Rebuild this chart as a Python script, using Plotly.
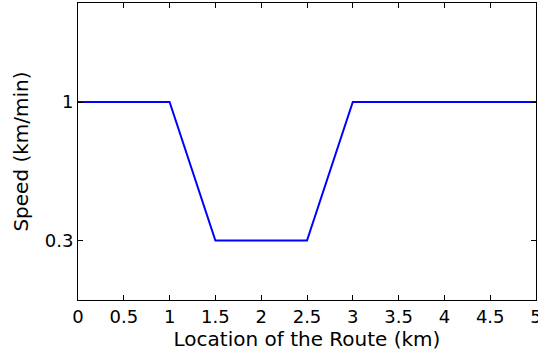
import plotly.graph_objects as go

location_km = [0, 1, 1.5, 2.5, 3, 5]
speed_km_min = [1, 1, 0.3, 0.3, 1, 1]
x_ticks = [0, 0.5, 1, 1.5, 2, 2.5, 3, 3.5, 4, 4.5, 5]
x_tick_labels = ["0", "0.5", "1", "1.5", "2", "2.5", "3", "3.5", "4", "4.5", "5"]
y_ticks = [0.3, 1]
y_tick_labels = ["0.3", "1"]

fig = go.Figure()
fig.add_trace(go.Scatter(x=location_km, y=speed_km_min, mode="lines",
                         line=dict(color="#0000ff", width=2), showlegend=False))

tick_font = dict(family="DejaVu Sans, sans-serif", size=18, color="black")
title_font = dict(family="DejaVu Sans, sans-serif", size=20, color="black")
fig.update_layout(
    width=538, height=354,
    margin=dict(l=78, r=2, t=3, b=54, autoexpand=False),
    paper_bgcolor="white", plot_bgcolor="white",
    font=tick_font,
)
fig.update_xaxes(range=[0, 5], tickvals=x_ticks, ticktext=x_tick_labels,
                 ticks="inside", ticklen=5, tickcolor="black", mirror="ticks",
                 showline=True, linecolor="black", linewidth=1, showgrid=False,
                 zeroline=False, tickfont=tick_font, ticklabeloverflow="allow",
                 automargin=False,
                 title=dict(text="Location of the Route (km)", font=title_font, standoff=0))
fig.update_yaxes(range=[0, 1.5], tickvals=y_ticks, ticktext=y_tick_labels,
                 ticks="inside", ticklen=5, tickcolor="black", mirror="ticks",
                 showline=True, linecolor="black", linewidth=1, showgrid=False,
                 zeroline=False, tickfont=tick_font, automargin=False,
                 title=dict(text="Speed (km/min)", font=title_font, standoff=10))

fig.write_html("out.html")
